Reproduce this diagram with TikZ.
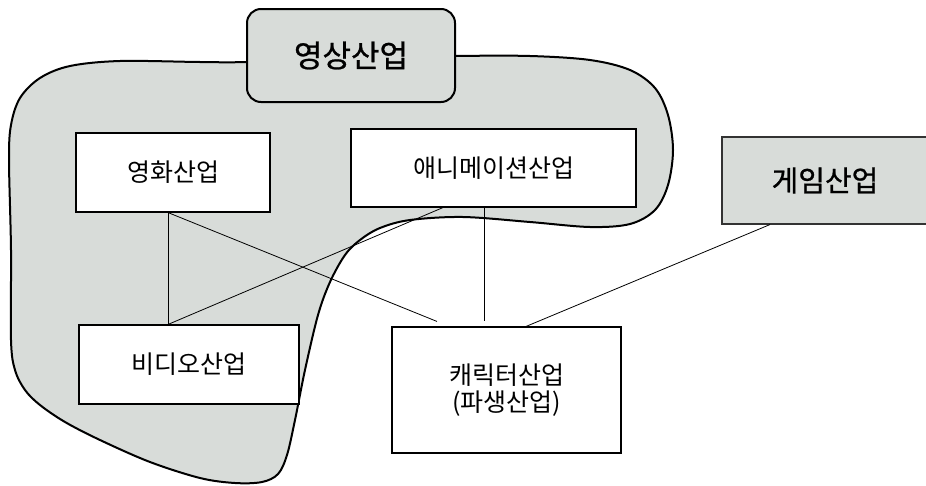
\documentclass[tikz,border=0pt]{standalone}
\usepackage{fontspec}
\setmainfont{Noto Sans CJK KR}
\newfontfamily\krmed[FakeBold=0.8]{Noto Sans CJK KR}
\definecolor{blobgray}{RGB}{216,220,217}
\tikzset{
  blob/.style={draw=black, line width=2pt, fill=blobgray},
  mainbox/.style={draw=black, line width=2pt, fill=blobgray, rounded corners=14pt, inner sep=0pt, font=\fontsize{31}{34}\krmed},
  plainbox/.style={draw=black, line width=1.1pt, fill=white, inner sep=0pt, font=\fontsize{25}{27}\selectfont, align=center},
  graybox/.style={draw=black!80, line width=1.1pt, fill=blobgray, inner sep=0pt, font=\fontsize{29}{31}\krmed},
  link/.style={draw=black, line width=0.8pt}
}
\begin{document}
\begin{tikzpicture}[x=1pt, y=-1pt]
\useasboundingbox (0,0) rectangle (926,485);
\fill[white] (0,0) rectangle (926,485);
\draw[blob] plot[smooth cycle, tension=0.55] coordinates {
 (120,61) (200,62) (247,62) (351,58) (455,56) (530,56) (590,60) (630,70) (655,88)
 (668,115) (673,150) (668,185) (655,210) (630,224) (590,227) (530,222) (463,217)
 (410,220) (380,228) (360,240) (345,255) (330,282) (318,315) (305,370) (295,420)
 (287,455) (278,474) (262,482) (235,483) (200,478) (150,462) (100,440) (65,422)
 (40,405) (25,390) (15,370) (11,340) (11,250) (9,160) (11,125) (20,98) (40,78) (70,66)};
\node[mainbox, minimum width=208pt, minimum height=93pt] (ys) at (351,55.5) {영상산업};
\node[plainbox, minimum width=194pt, minimum height=79pt] (film) at (173,172.5) {영화산업};
\node[plainbox, minimum width=285pt, minimum height=78pt] (ani) at (493.5,168) {애니메이션산업};
\node[graybox, minimum width=206pt, minimum height=87pt] (game) at (825,180.5) {게임산업};
\node[plainbox, minimum width=220pt, minimum height=79pt] (video) at (189,364.5) {비디오산업};
\node[plainbox, minimum width=229pt, minimum height=126pt] (char) at (506.5,390) {캐릭터산업\\(파생산업)};
\draw[link] ([xshift=-5pt]film.south) -- ([xshift=-21pt]video.north);
\draw[link] ([xshift=-5pt]film.south) -- ([xshift=-69.5pt,yshift=5pt]char.north);
\draw[link] ([xshift=-50.5pt]ani.south) -- ([xshift=-21pt]video.north);
\draw[link] ([xshift=-9.5pt]ani.south) -- ([xshift=-22.5pt,yshift=5pt]char.north);
\draw[link] ([xshift=-55pt]game.south) -- ([xshift=19.5pt]char.north);
\end{tikzpicture}
\end{document}
